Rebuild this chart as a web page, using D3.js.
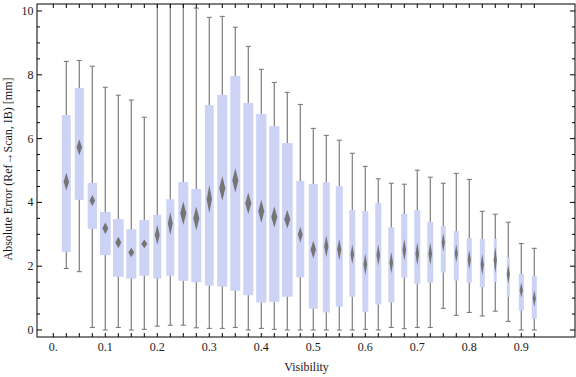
<!DOCTYPE html>
<html><head><meta charset="utf-8">
<script src="https://cdn.jsdelivr.net/npm/d3@7"></script>
<style>body{margin:0;background:#fff}svg{display:block}text{font-family:"Liberation Serif","DejaVu Serif",serif;fill:#1a1a1a}</style>
</head><body><svg id="c" width="576" height="377"></svg>
<script>
const visibility = [0.025,0.05,0.075,0.1,0.125,0.15,0.175,0.2,0.225,0.25,0.275,0.3,0.325,0.35,0.375,0.4,0.425,0.45,0.475,0.5,0.525,0.55,0.575,0.6,0.625,0.65,0.675,0.7,0.725,0.75,0.775,0.8,0.825,0.85,0.875,0.9,0.925];
const whiskerLow = [1.93,1.83,0.08,0.0,0.08,0.0,0.02,0.12,0.15,0.15,0.07,0.05,0.05,0.08,0.0,0.05,0.02,0.0,0.0,0.0,0.0,0.0,0.0,0.02,0.0,0.08,0.04,0.08,0.08,0.68,0.46,0.55,0.44,0.59,0.27,0.0,0.0];
const q1 = [2.45,4.08,3.17,2.35,1.67,1.61,1.70,1.61,1.70,1.54,1.50,1.39,1.36,1.23,1.09,0.86,0.88,1.04,1.65,0.67,0.55,0.73,1.04,0.57,0.80,0.86,1.64,1.45,1.48,1.80,1.55,1.48,1.34,1.50,1.04,0.61,0.35];
const meanVal = [4.65,5.73,4.06,3.19,2.74,2.43,2.70,2.98,3.34,3.66,3.50,4.10,4.44,4.69,3.97,3.72,3.54,3.47,2.99,2.52,2.62,2.52,2.37,2.06,2.35,2.11,2.51,2.39,2.39,2.74,2.40,2.20,2.05,2.19,1.75,1.25,0.99];
const meanErr = [0.28,0.25,0.17,0.18,0.18,0.15,0.14,0.31,0.36,0.37,0.37,0.44,0.39,0.38,0.34,0.36,0.33,0.29,0.25,0.28,0.34,0.33,0.31,0.34,0.33,0.34,0.34,0.36,0.36,0.29,0.28,0.30,0.33,0.42,0.29,0.24,0.26];
const q3 = [6.74,7.59,4.61,3.70,3.48,3.16,3.45,3.61,4.10,4.64,4.42,7.05,7.37,7.96,7.12,6.77,6.39,5.86,4.67,4.58,4.63,4.51,3.76,3.73,3.98,3.22,3.64,3.76,3.39,3.26,3.10,2.88,2.85,2.86,2.28,1.76,1.69];
const whiskerHigh = [8.42,8.45,8.27,7.61,7.36,7.21,6.67,11.5,12.0,11.0,10.09,9.80,9.83,9.49,8.89,8.17,7.76,7.45,7.07,6.32,6.10,5.95,5.54,5.13,4.74,4.60,4.57,5.01,4.79,4.60,4.91,4.72,3.72,3.63,3.38,2.71,2.56];
const weight = [0.9,0.9,0.93,1.07,1.07,1.0,1.0,0.8,0.8,1.0,1.0,0.87,1.0,1.0,1.0,1.03,1.03,1.07,0.8,0.9,0.7,0.7,0.6,0.6,0.6,0.6,0.6,0.6,0.6,0.5,0.5,0.5,0.5,0.3,0.3,0.5,0.5];
const xTickLabels = ["0.","0.1","0.2","0.3","0.4","0.5","0.6","0.7","0.8","0.9"];
const xTickValues = [0,0.1,0.2,0.3,0.4,0.5,0.6,0.7,0.8,0.9];
const yTickValues = [0,2,4,6,8,10];

const L=37,R=575,T=4,B=337;
const x = d3.scaleLinear().domain([-0.03135,1.0033]).range([L,R]);
const y = d3.scaleLinear().domain([-0.2194,10.2194]).range([B,T]);
const wScale = d3.scaleLinear().domain([0,1]).range([0,10]);

const svg = d3.select("#c");
svg.append("defs").append("clipPath").attr("id","clip").append("rect").attr("x",L).attr("y",T).attr("width",R-L).attr("height",B-T);
const f = svg.select("defs").append("filter").attr("id","soft").attr("x","-50%").attr("y","-20%").attr("width","200%").attr("height","140%");
f.append("feGaussianBlur").attr("stdDeviation",0.45);

const data = visibility.map((v,i)=>({v,lo:whiskerLow[i],q1:q1[i],m:meanVal[i],e:meanErr[i],q3:q3[i],hi:whiskerHigh[i],w:weight[i]}));
const g = svg.append("g").attr("clip-path","url(#clip)");

// whiskers
g.selectAll(".wh").data(data).join("line").attr("class","wh")
 .attr("x1",d=>x(d.v)).attr("x2",d=>x(d.v)).attr("y1",d=>y(d.lo)).attr("y2",d=>y(d.hi))
 .attr("stroke","#7c7c7c").attr("stroke-width",1.2);
["lo","hi"].forEach(k=>{
 g.selectAll(".cap"+k).data(data).join("line").attr("class","cap"+k)
  .attr("x1",d=>x(d.v)-2.5).attr("x2",d=>x(d.v)+2.5).attr("y1",d=>y(d[k])).attr("y2",d=>y(d[k]))
  .attr("stroke","#7c7c7c").attr("stroke-width",1.1);
});
// boxes
g.selectAll(".bx").data(data).join("rect").attr("class","bx")
 .attr("x",d=>x(d.v)-wScale(d.w)/2).attr("width",d=>wScale(d.w))
 .attr("y",d=>y(d.q3)).attr("height",d=>y(d.q1)-y(d.q3))
 .attr("fill","#ccd3f5");
// mean diamonds
g.selectAll(".dm").data(data).join("polygon").attr("class","dm")
 .attr("points",d=>{const cx=x(d.v),hw=Math.max(1.6,Math.min(3,wScale(d.w)*0.3));
   return [[cx,y(d.m+d.e)],[cx+hw,y(d.m)],[cx,y(d.m-d.e)],[cx-hw,y(d.m)]].map(p=>p.join(",")).join(" ");})
 .attr("fill","#747474").attr("filter","url(#soft)");

// frame
svg.append("rect").attr("x",L).attr("y",T).attr("width",R-L).attr("height",B-T).attr("fill","none").attr("stroke","#000").attr("stroke-width",1);

// x ticks (at box positions and 0)
const xt = [0].concat(visibility);
svg.selectAll(".xtb").data(xt).join("line").attr("x1",d=>x(d)).attr("x2",d=>x(d)).attr("y1",B).attr("y2",B-4).attr("stroke","#000");
svg.selectAll(".xtt").data(xt).join("line").attr("class","xtt").attr("x1",d=>x(d)).attr("x2",d=>x(d)).attr("y1",T).attr("y2",T+4).attr("stroke","#000");
svg.selectAll(".xl").data(xTickValues).join("text").attr("class","xl")
 .attr("x",d=>x(d)).attr("y",351).attr("text-anchor","middle").attr("font-size",12)
 .text((d,i)=>xTickLabels[i]);

// y ticks
const yMinor = d3.range(0,10.01,0.5);
yMinor.forEach(v=>{
 const len = (v%2===0)?5:3;
 svg.append("line").attr("x1",L).attr("x2",L+len).attr("y1",y(v)).attr("y2",y(v)).attr("stroke","#000");
 svg.append("line").attr("x1",R).attr("x2",R-len).attr("y1",y(v)).attr("y2",y(v)).attr("stroke","#000");
});
svg.selectAll(".yl").data(yTickValues).join("text").attr("class","yl")
 .attr("x",33.5).attr("y",d=>y(d)+4).attr("text-anchor","end").attr("font-size",12).text(d=>d);

svg.append("text").attr("x",(L+R)/2+0.5).attr("y",371).attr("text-anchor","middle").attr("font-size",12).text("Visibility");
svg.append("text").attr("transform","translate(11.5,169) rotate(-90)").attr("text-anchor","middle").attr("font-size",12).text("Absolute Error (Ref\u2192Scan, IB) [mm]");
</script></body></html>
